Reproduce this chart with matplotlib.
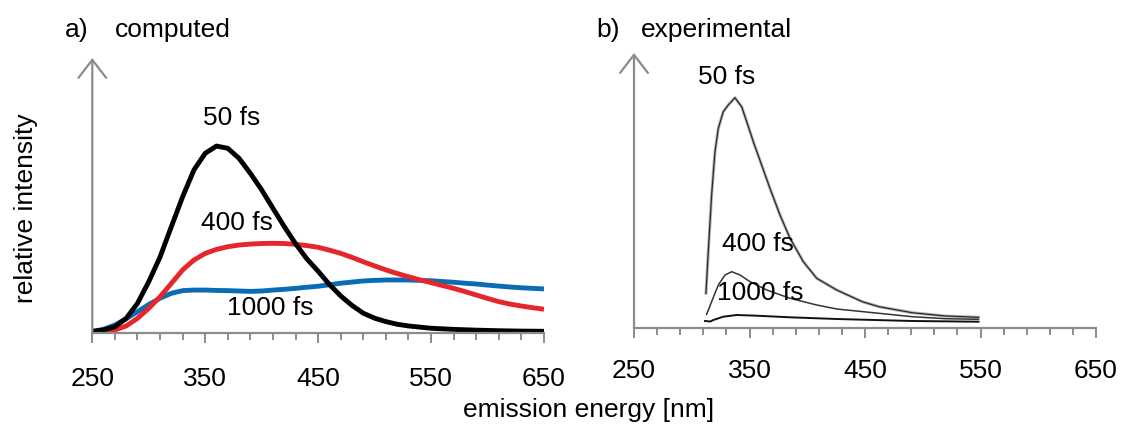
import matplotlib
matplotlib.use("Agg")
import matplotlib.pyplot as plt

plt.rcParams['font.family'] = ['Liberation Sans', 'DejaVu Sans']

# ---------------- data: computed (relative units) ----------------
comp_50_nm = [250, 260, 270, 280, 290, 300, 310, 320, 330, 340, 350, 360, 370, 380, 390, 400,
              410, 420, 430, 440, 450, 460, 470, 480, 490, 500, 510, 520, 530, 550, 570, 590,
              610, 630, 650]
comp_50 = [0.009, 0.016, 0.033, 0.077, 0.156, 0.27, 0.40, 0.56, 0.717, 0.858, 0.946, 0.984,
           0.972, 0.919, 0.84, 0.753, 0.656, 0.56, 0.47, 0.39, 0.325, 0.255, 0.195, 0.145,
           0.104, 0.078, 0.06, 0.046, 0.037, 0.025, 0.019, 0.015, 0.012, 0.010, 0.009]

comp_400_nm = [250, 260, 270, 280, 290, 300, 310, 320, 330, 340, 350, 360, 370, 380, 390, 400,
               410, 420, 430, 440, 450, 460, 470, 480, 490, 500, 510, 520, 530, 540, 550, 560,
               570, 580, 590, 600, 610, 620, 630, 640, 650]
comp_400 = [0.0, 0.006, 0.016, 0.037, 0.077, 0.13, 0.191, 0.261, 0.332, 0.384, 0.419, 0.44,
            0.454, 0.463, 0.468, 0.471, 0.472, 0.471, 0.467, 0.46, 0.451, 0.436, 0.419, 0.398,
            0.375, 0.353, 0.332, 0.313, 0.296, 0.28, 0.265, 0.25, 0.235, 0.218, 0.2, 0.182,
            0.165, 0.152, 0.142, 0.133, 0.125]

comp_1000_nm = comp_400_nm
comp_1000 = [0.007, 0.02, 0.042, 0.075, 0.112, 0.15, 0.183, 0.209, 0.223, 0.226, 0.226, 0.224,
             0.223, 0.221, 0.219, 0.221, 0.226, 0.23, 0.235, 0.241, 0.246, 0.254, 0.262, 0.268,
             0.274, 0.277, 0.279, 0.279, 0.279, 0.277, 0.275, 0.271, 0.267, 0.262, 0.258,
             0.252, 0.247, 0.242, 0.238, 0.235, 0.232]

# ---------------- data: experimental (arbitrary units) ----------------
exp_50_nm = [312.3, 314.3, 317.2, 320.1, 323.0, 327.3, 331.6, 337.4, 343.2, 347.6, 353.3,
             360.5, 367.7, 376.4, 385.1, 396.6, 408.2, 425.5, 447.7, 462.1, 490.8, 519.5, 548.3]
exp_50 = [34.7, 76, 133, 176, 199.7, 216.3, 223, 230.3, 221.3, 206.3, 186.3, 163, 139.7, 113,
          89.7, 66.3, 49.7, 38, 26.3, 21.3, 15.3, 12, 10.7]

exp_400_nm = [312.9, 317.2, 323.0, 328.8, 334.6, 341.8, 350.4, 364.9, 385.1, 408.2, 425.5,
              462.1, 490.8, 519.5, 548.3]
exp_400 = [13.7, 26.3, 43, 53, 56.3, 53, 46.3, 38, 29.7, 23, 19, 14.7, 11.3, 9.3, 8.7]

exp_1000_nm = [311.5, 316.0, 318.7, 327.3, 338.9, 356.2, 385.1, 425.5, 490.8, 548.3]
exp_1000 = [7, 6.5, 8, 11.3, 13, 12.3, 10.7, 9, 7, 6.3]

xticks_major = [250, 350, 450, 550, 650]
xtick_labels = ['250', '350', '450', '550', '650']
xticks_minor = list(range(250, 651, 20))

W, H = 1121, 437
fig = plt.figure(figsize=(W / 100, H / 100), dpi=100)

GRAY = '#8c8c8c'
FS = 19


def make_ax(x0, x1, ybot, ytop):
    return fig.add_axes([x0 / W, (H - ybot) / H, (x1 - x0) / W, (ybot - ytop) / H])


def style(ax, ytop, pad):
    ax.set_xlim(250, 650)
    ax.set_ylim(0, ytop)
    for s in ['top', 'right', 'left']:
        ax.spines[s].set_visible(False)
    ax.spines['bottom'].set_color(GRAY)
    ax.spines['bottom'].set_linewidth(1.6)
    ax.set_yticks([])
    ax.set_xticks(xticks_major)
    ax.set_xticklabels(xtick_labels, fontsize=FS)
    ax.set_xticks(xticks_minor, minor=True)
    ax.tick_params(axis='x', which='major', length=7, width=1.4, color=GRAY, pad=pad)
    ax.tick_params(axis='x', which='minor', length=5, width=1.4, color=GRAY)
    ax.patch.set_visible(False)
    ax.annotate('', xy=(0, 1), xytext=(0, 0), xycoords='axes fraction',
                textcoords='axes fraction',
                arrowprops=dict(arrowstyle='->,head_length=0.65,head_width=0.5',
                                color=GRAY, lw=1.6, shrinkA=0, shrinkB=0,
                                mutation_scale=20))


# left panel: computed
ax1 = make_ax(92.3, 544, 333, 58)
style(ax1, 275 / 190, 17.5)
ax1.plot(comp_1000_nm, comp_1000, color='#0a6cb5', lw=3.5, solid_capstyle='butt',
         solid_joinstyle='round')
ax1.plot(comp_400_nm, comp_400, color='#e5262b', lw=3.5, solid_capstyle='butt',
         solid_joinstyle='round')
ax1.plot(comp_50_nm, comp_50, color='black', lw=3.5, solid_capstyle='butt',
         solid_joinstyle='round')
ax1.text(373.2, 1.134, '50 fs', fontsize=FS, ha='center', va='center')
ax1.text(378.5, 0.579, '400 fs', fontsize=FS, ha='center', va='center')
ax1.text(407.7, 0.134, '1000 fs', fontsize=FS, ha='center', va='center')

# right panel: experimental
ax2 = make_ax(634, 1096, 328, 53)
style(ax2, 275, 15.5)
ax2.plot(exp_50_nm, exp_50, color='#b4b4b4', lw=2.2)
ax2.plot(exp_50_nm, exp_50, color='#2a2a2a', lw=0.9)
ax2.plot(exp_400_nm, exp_400, color='#333333', lw=1.1)
ax2.plot(exp_1000_nm, exp_1000, color='#111111', lw=1.4)
ax2.text(330.1, 250.5, '50 fs', fontsize=FS, ha='center', va='center')
ax2.text(357.1, 84, '400 fs', fontsize=FS, ha='center', va='center')
ax2.text(359.5, 35.5, '1000 fs', fontsize=FS, ha='center', va='center')

# titles and axis labels
fig.text(65 / W, (H - 37) / H, 'a)', fontsize=FS, ha='left', va='baseline')
fig.text(115 / W, (H - 37) / H, 'computed', fontsize=FS, ha='left', va='baseline')
fig.text(596 / W, (H - 37) / H, 'b)', fontsize=FS, ha='left', va='baseline')
fig.text(641 / W, (H - 37) / H, 'experimental', fontsize=FS, ha='left', va='baseline')
fig.text(26 / W, (H - 208) / H, 'relative intensity', fontsize=FS, rotation=90,
         ha='center', va='center')
fig.text(589 / W, (H - 410) / H, 'emission energy [nm]', fontsize=FS, ha='center',
         va='center')

fig.savefig('out.png', dpi=100)
